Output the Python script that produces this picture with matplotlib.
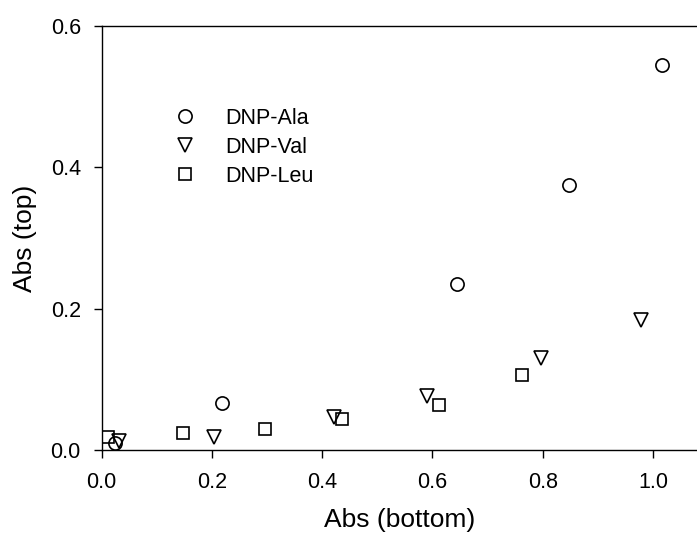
import matplotlib

matplotlib.use("Agg")

import matplotlib.pyplot as plt

plt.rcParams["font.family"] = ["Liberation Sans", "DejaVu Sans"]

# Abs (bottom) vs Abs (top) for each derivative
ala_x = [0.024, 0.219, 0.644, 0.847, 1.016]
ala_y = [0.0095, 0.066, 0.2345, 0.375, 0.545]

val_x = [0.031, 0.204, 0.422, 0.590, 0.797, 0.978]
val_y = [0.013, 0.019, 0.046, 0.077, 0.130, 0.184]

leu_x = [0.012, 0.1475, 0.296, 0.4366, 0.6127, 0.763]
leu_y = [0.019, 0.0245, 0.030, 0.0434, 0.0637, 0.1057]

x_ticks = [0.0, 0.2, 0.4, 0.6, 0.8, 1.0]
y_ticks = [0.0, 0.2, 0.4, 0.6]

fig = plt.figure(figsize=(6.97, 5.35), dpi=100)
ax = fig.add_axes([0.1459, 0.1589, 0.8541, 0.7925])

style = dict(linestyle="none", markerfacecolor="none", markeredgecolor="black", markeredgewidth=1.2)
ax.plot(ala_x, ala_y, marker="o", markersize=9.5, label="DNP-Ala", **style)
ax.plot(val_x, val_y, marker="v", markersize=9.5, label="DNP-Val", **style)
ax.plot(leu_x, leu_y, marker="s", markersize=8.5, label="DNP-Leu", **style)

ax.set_xlim(0, 1.08)
ax.set_ylim(0, 0.6)
ax.set_xticks(x_ticks)
ax.set_yticks(y_ticks)
ax.set_xticklabels([f"{t:.1f}" for t in x_ticks])
ax.set_yticklabels([f"{t:.1f}" for t in y_ticks])
ax.spines["right"].set_visible(False)
for s in ("left", "bottom", "top"):
    ax.spines[s].set_linewidth(1.0)
ax.tick_params(direction="out", length=6, width=1, labelsize=15.5)
ax.tick_params(axis="y", pad=9)
ax.tick_params(axis="x", pad=10)

ax.set_xlabel("Abs (bottom)", fontsize=19, labelpad=11)
ax.set_ylabel("Abs (top)", fontsize=19, labelpad=10)

ax.legend(
    loc="upper left",
    bbox_to_anchor=(163 / 697, 1 - 108 / 535),
    bbox_transform=fig.transFigure,
    frameon=False,
    fontsize=15.5,
    borderpad=0,
    borderaxespad=0,
    handlelength=2.0,
    handletextpad=0.9,
    labelspacing=0.36,
    numpoints=1,
)

fig.savefig("out.png", dpi=100)
